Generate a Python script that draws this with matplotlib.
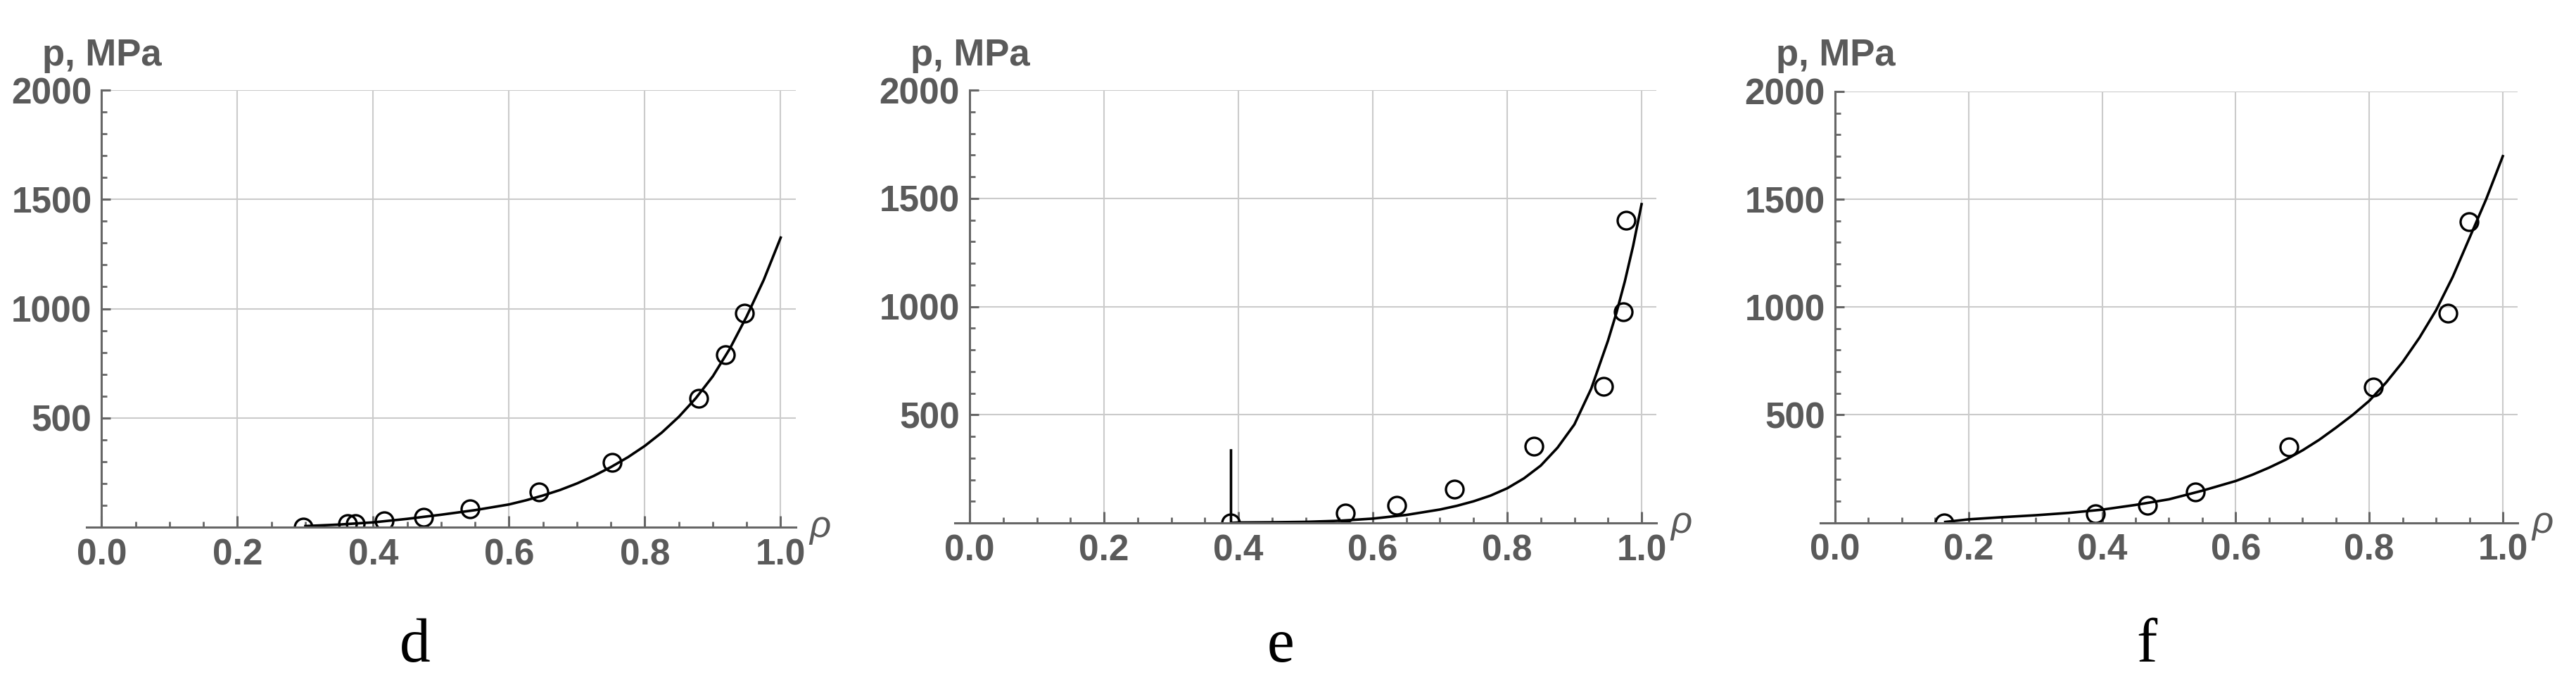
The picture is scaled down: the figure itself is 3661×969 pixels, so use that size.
import matplotlib
matplotlib.use("Agg")
import matplotlib.pyplot as plt
from matplotlib.ticker import MultipleLocator

plt.rcParams['font.family'] = ['Liberation Sans', 'DejaVu Sans']

# ---------------- data ----------------
panel_names = ["d", "e", "f"]

# measured points (relative density rho, pressure p in MPa)
d_pts_x = [0.297, 0.362, 0.374, 0.416, 0.474, 0.543, 0.644, 0.752, 0.879, 0.919, 0.947]
d_pts_y = [0, 15, 15, 28, 45, 83, 160, 296, 588, 789, 978]
d_fit_x = [0.30, 0.35, 0.40, 0.45, 0.50, 0.55, 0.60, 0.625, 0.65, 0.675, 0.70, 0.725, 0.75,
           0.775, 0.80, 0.825, 0.85, 0.875, 0.90, 0.925, 0.95, 0.975, 1.00]
d_fit_y = [5, 12, 22, 38, 57, 78, 104, 123, 145, 170, 200, 235, 275,
           320, 372, 433, 505, 590, 690, 816, 965, 1131, 1325]

e_pts_x = [0.388, 0.559, 0.636, 0.721, 0.840, 0.943, 0.973, 0.977]
e_pts_y = [0, 46, 82, 156, 356, 631, 976, 1400]
e_fit_x = [0.389, 0.389, 0.40, 0.45, 0.50, 0.55, 0.60, 0.65, 0.70, 0.725, 0.75, 0.775, 0.80,
           0.825, 0.85, 0.875, 0.90, 0.925, 0.95, 0.9625, 0.975, 0.9875, 1.00]
e_fit_y = [335, 0, 2, 3, 5, 10, 20, 37, 62, 79, 100, 126, 160,
           206, 265, 348, 455, 620, 842, 970, 1115, 1281, 1473]

f_pts_x = [0.163, 0.390, 0.468, 0.539, 0.680, 0.806, 0.918, 0.949]
f_pts_y = [0, 40, 80, 142, 352, 628, 973, 1396]
f_fit_x = [0.165, 0.20, 0.25, 0.30, 0.35, 0.40, 0.45, 0.50, 0.55, 0.60, 0.625, 0.65, 0.675,
           0.70, 0.725, 0.75, 0.775, 0.80, 0.825, 0.85, 0.875, 0.90, 0.925, 0.95, 0.975, 1.00]
f_fit_y = [3, 15, 25, 34, 45, 60, 82, 108, 148, 193, 222, 255, 292,
           335, 384, 440, 499, 565, 649, 745, 857, 985, 1140, 1320, 1500, 1700]

x_ticks = [0.0, 0.2, 0.4, 0.6, 0.8, 1.0]
x_tick_labels = ["0.0", "0.2", "0.4", "0.6", "0.8", "1.0"]
y_ticks = [500, 1000, 1500, 2000]
y_tick_labels = ["500", "1000", "1500", "2000"]
y_label = "p, MPa"
x_label = "\u03c1"

# ---------------- layout (pixels) ----------------
W, H = 3662, 969
XLIM = (-0.022, 1.022)
YLIM = (0, 2000)
geom = {  # x of rho=0, px per unit, y of p=0, y of p=2000
    "d": (144.5, 965, 749, 128),
    "e": (1378, 955, 743, 128),
    "f": (2608, 949, 742.5, 130),
}
letter_x = {"d": 590, "e": 1820, "f": 3051}

AX_COL = "#666666"
TXT_COL = "#5a5a5a"
GRID_COL = "#cbcbcb"

fig = plt.figure(figsize=(W / 100, H / 100), dpi=100)
fig.patch.set_facecolor("white")

data = {
    "d": (d_pts_x, d_pts_y, d_fit_x, d_fit_y),
    "e": (e_pts_x, e_pts_y, e_fit_x, e_fit_y),
    "f": (f_pts_x, f_pts_y, f_fit_x, f_fit_y),
}

for name in panel_names:
    x0, unit, y0, y2k = geom[name]
    left = x0 + XLIM[0] * unit
    width = (XLIM[1] - XLIM[0]) * unit
    ax = fig.add_axes([left / W, 1 - y0 / H, width / W, (y0 - y2k) / H])
    ax.set_xlim(*XLIM)
    ax.set_ylim(*YLIM)
    ax.patch.set_alpha(0)

    for s in ("top", "right"):
        ax.spines[s].set_visible(False)
    ax.spines["left"].set_position(("data", 0))
    for s in ("left", "bottom"):
        ax.spines[s].set_color(AX_COL)
        ax.spines[s].set_linewidth(2.2)
        ax.spines[s].set_zorder(4)

    # grid
    ax.vlines(x_ticks[1:], YLIM[0], YLIM[1], colors=GRID_COL, linewidth=1.5, zorder=1)
    ax.hlines(y_ticks, 0, XLIM[1], colors=GRID_COL, linewidth=1.5, zorder=1)

    ax.set_xticks(x_ticks)
    ax.set_xticklabels(x_tick_labels)
    ax.set_yticks(y_ticks)
    ax.set_yticklabels(y_tick_labels)
    ax.xaxis.set_minor_locator(MultipleLocator(0.05))
    ax.yaxis.set_minor_locator(MultipleLocator(100))

    ax.tick_params(axis="x", which="major", direction="in", length=11.3, width=2.2,
                   color=AX_COL, pad=11, labelsize=37, labelcolor=TXT_COL)
    ax.tick_params(axis="x", which="minor", direction="in", length=5.8, width=2.0, color=AX_COL)
    ax.tick_params(axis="y", which="major", direction="in", length=9.5, width=2.2,
                   color=AX_COL, pad=10, labelsize=37, labelcolor=TXT_COL)
    ax.tick_params(axis="y", which="minor", direction="in", length=5.8, width=2.0, color=AX_COL)
    for lab in ax.get_xticklabels() + ax.get_yticklabels():
        lab.set_fontweight("bold")

    px, py, fx, fy = data[name]
    ax.plot(fx, fy, color="black", linewidth=2.6, zorder=3, solid_joinstyle="round")
    ax.plot(px, py, linestyle="none", marker="o", markersize=18, markerfacecolor="none",
            markeredgecolor="black", markeredgewidth=2.4, zorder=3)

    # axis labels
    fig.text((x0 - 84) / W, 1 - 93 / H, y_label, ha="left", va="baseline",
             fontsize=38, fontweight="bold", color=TXT_COL)
    right = x0 + XLIM[1] * unit
    fig.text((right + 20) / W, 1 - (y0 + 14) / H, x_label, ha="left", va="baseline",
             fontsize=38, style="italic", color=TXT_COL)

    # panel letter
    fig.text(letter_x[name] / W, 1 - 940 / H, name, ha="center", va="baseline",
             fontsize=63, family="Liberation Serif", color="black")

fig.savefig("out.png", dpi=100, facecolor="white")
